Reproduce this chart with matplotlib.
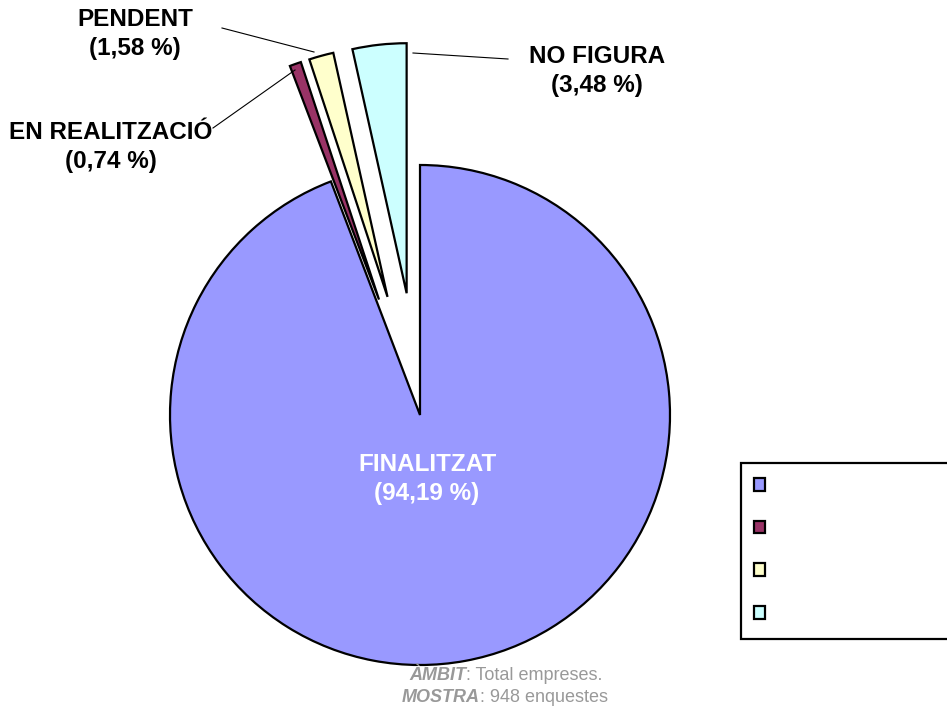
import numpy as np
import matplotlib
matplotlib.use("Agg")
import matplotlib.pyplot as plt

plt.rcParams['font.family'] = ['Liberation Sans', 'DejaVu Sans']

# data
categories = ['FINALITZAT', 'EN REALITZACIÓ', 'PENDENT', 'NO FIGURA']
values = [94.19, 0.74, 1.58, 3.48]
value_labels = ['94,19 %', '0,74 %', '1,58 %', '3,48 %']
colors = ['#9999FF', '#993366', '#FFFFCC', '#CCFFFF']
explode = [0, 0.49, 0.49, 0.49]

W, H = 947, 712
CX, CY, R = 420, 415, 250  # pie centre / radius in pixels


def px(x, y):
    # pixel position (from top-left) -> data units (radius = 1)
    return ((x - CX) / R, (CY - y) / R)


fig = plt.figure(figsize=(W / 100, H / 100), dpi=100)
ax = fig.add_axes([0, 0, 1, 1])

wedges, _ = ax.pie(values, colors=colors, explode=explode, startangle=90,
                   counterclock=False, radius=1,
                   wedgeprops=dict(edgecolor='black', linewidth=1.6))
ax.set_aspect('auto')
ax.set_xlim(-CX / R, (W - CX) / R)
ax.set_ylim((CY - H) / R, CY / R)
ax.axis('off')

# label of the big slice inside it
ax.text(*px(427, 479), '%s\n(%s)' % (categories[0], value_labels[0]),
        ha='center', va='center', color='white', fontsize=17.5,
        fontweight='bold', linespacing=1.3)

# outside labels with leader lines
outside = [
    (1, (111, 147), (213, 128), (295, 70)),
    (2, (135, 34), (222, 28), (314, 52)),
    (3, (597, 71), (508, 59), (413, 53)),
]
for i, txt_pos, p0, p1 in outside:
    ax.text(*px(*txt_pos), '%s\n(%s)' % (categories[i], value_labels[i]),
            ha='center', va='center', color='black', fontsize=17.5,
            fontweight='bold', linespacing=1.3)
    a, b = px(*p0), px(*p1)
    ax.plot([a[0], b[0]], [a[1], b[1]], color='black', lw=0.8)

# legend (labels in white, as in the original)
leg = ax.legend(wedges, categories, loc='upper left',
                bbox_to_anchor=(741 / W, 1 - 463 / H), borderaxespad=0,
                fontsize=17, handlelength=0.45, handleheight=0.45,
                handletextpad=1.0, labelspacing=0.87, borderpad=0.55,
                fancybox=False, frameon=True, shadow=False, framealpha=1)
leg.get_frame().set_edgecolor('black')
leg.get_frame().set_linewidth(1.6)
for t in leg.get_texts():
    t.set_color('white')
for h in leg.legend_handles:
    h.set_linewidth(1.6)

# footnote
gray = '#999999'
t1 = ax.text(*px(409, 675), 'ÀMBIT', ha='left', va='center', color=gray,
             fontsize=13, fontweight='bold', fontstyle='italic')
ax.annotate(': Total empreses.', xy=(1, 0.5), xycoords=t1, ha='left',
            va='center', color=gray, fontsize=13)
t2 = ax.text(*px(402, 698), 'MOSTRA', ha='left', va='center', color=gray,
             fontsize=13, fontweight='bold', fontstyle='italic')
ax.annotate(': 948 enquestes', xy=(1, 0.5), xycoords=t2, ha='left',
            va='center', color=gray, fontsize=13)

fig.savefig('out.png', dpi=100)
